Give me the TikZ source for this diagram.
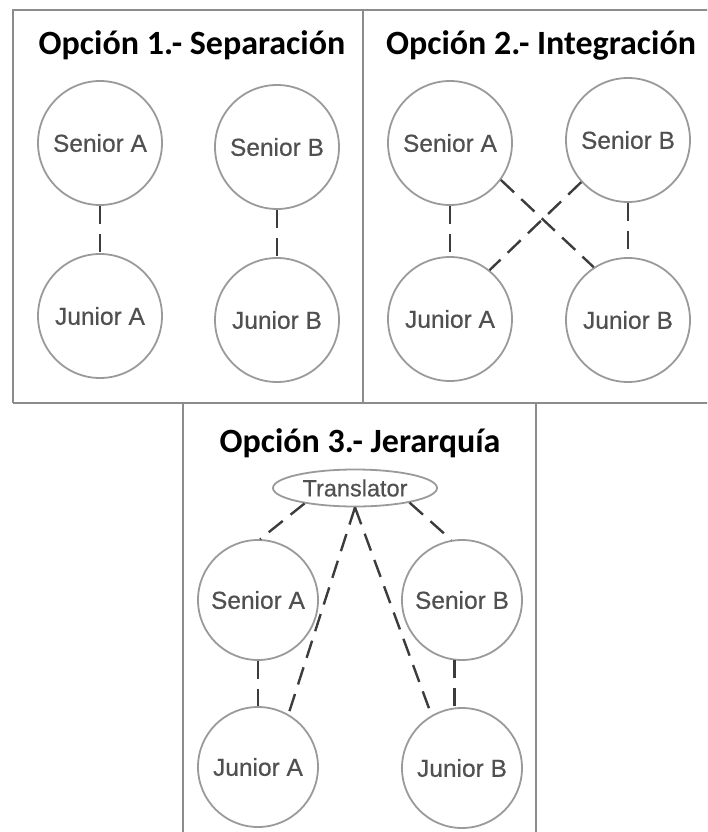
\documentclass[tikz,border=0pt]{standalone}
\usepackage{fontspec}
\setmainfont{Liberation Sans}
\newfontfamily\titlefont{Carlito}
\newfontfamily\nodefont[FakeBold=0.6]{Liberation Sans}
\usetikzlibrary{shapes.geometric}
\definecolor{framegray}{HTML}{8C8C8C}
\definecolor{circgray}{HTML}{9A9A9A}
\definecolor{linkgray}{HTML}{3C3C3C}
\definecolor{textgray}{HTML}{505050}
\begin{document}
\begin{tikzpicture}[x=1pt,y=-1pt,
  frame/.style={draw=framegray, line width=2.6pt},
  person/.style={circle, draw=circgray, line width=1.8pt, minimum size=124pt,
    inner sep=0pt, text=textgray, font=\nodefont\fontsize{24.5}{28}\selectfont},
  smallperson/.style={person, minimum size=120pt},
  link/.style={draw=linkgray, line width=2.4pt, dash pattern=on 18pt off 10pt},
  heading/.style={font=\titlefont\bfseries\fontsize{34}{40}\selectfont, anchor=base}]
\useasboundingbox (0,0) rectangle (707,832);
\clip (0,0) rectangle (707,832);

% panel frames
\draw[frame] (13,403) -- (13,10) -- (720,10);
\draw[frame] (13,403) -- (720,403);
\draw[frame] (363,10) -- (363,403);
\draw[frame] (183,403) -- (183,840);
\draw[frame] (536,403) -- (536,840);

% headings
\node[heading] (t1) at (192,55) {Opción 1.- Separación};
\node[heading] (t2) at (541,55) {Opción 2.- Integración};
\node[heading] (t3) at (360,452) {Opción 3.- Jerarquía};

% option 1: separation
\node[person] (sa1) at (100,143) {Senior A};
\node[person] (sb1) at (277,147) {Senior B};
\node[person] (ja1) at (100,316) {Junior A};
\node[person] (jb1) at (277,320) {Junior B};
\draw[link] (sa1) -- (ja1);
\draw[link] (sb1) -- (jb1);

% option 2: integration
\node[person] (sa2) at (450,143) {Senior A};
\node[person] (sb2) at (628,140) {Senior B};
\node[person] (ja2) at (450,319) {Junior A};
\node[person] (jb2) at (628,320) {Junior B};
\draw[link] (sa2) -- (ja2);
\draw[link] (sb2) -- (jb2);
\draw[link] (sa2.-36) -- (jb2.123);
\draw[link] (sb2.222) -- (ja2.51);

% option 3: hierarchy
\node[ellipse, draw=circgray, line width=1.8pt, minimum width=164pt, minimum height=37pt,
  inner sep=0pt, text=textgray, font=\nodefont\fontsize{23.5}{27}\selectfont] (tr) at (355,488) {Translator};
\node[smallperson] (sa3) at (258,600) {Senior A};
\node[smallperson] (sb3) at (462,600) {Senior B};
\node[smallperson] (ja3) at (258,767) {Junior A};
\node[smallperson] (jb3) at (462,768) {Junior B};
\draw[link] (tr.197) -- (sa3.88);
\draw[link] (tr.-15) -- (sb3.100);
\draw[link] (tr.south) -- (ja3.60);
\draw[link] (tr.south) -- (jb3.120);
\draw[link] (sa3) -- (ja3);
\draw[link] (sb3.263) -- (jb3.97);
\end{tikzpicture}
\end{document}
